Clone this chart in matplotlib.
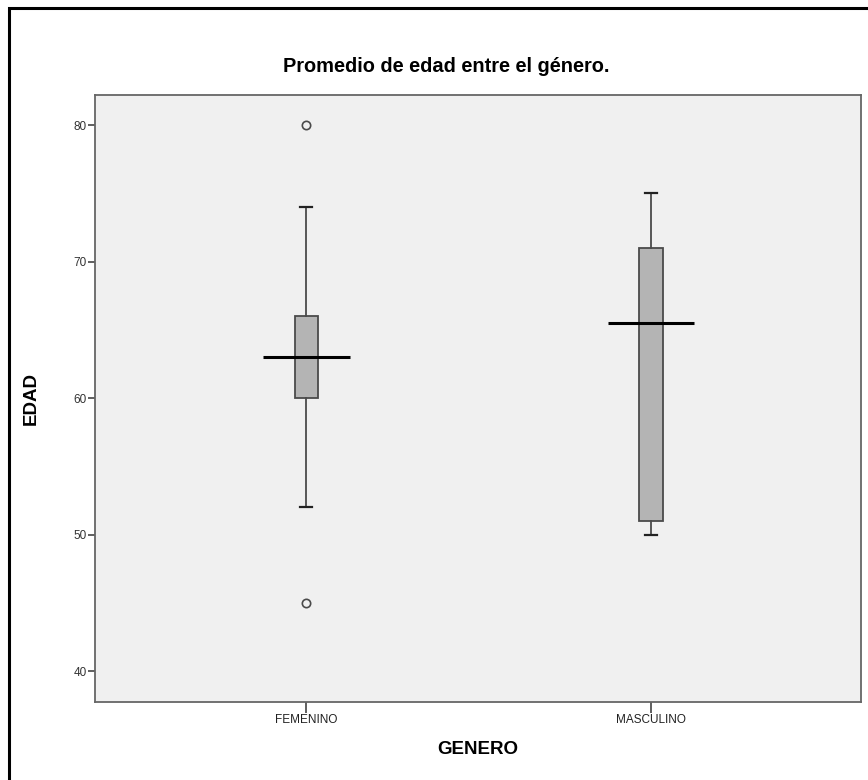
import numpy as np
import matplotlib
matplotlib.use("Agg")
import matplotlib.pyplot as plt
from matplotlib.patches import Rectangle

plt.rcParams["font.family"] = ["Liberation Sans", "DejaVu Sans"]

# values
categories = ["FEMENINO", "MASCULINO"]
whisker_lo = [52, 50]
q1 = [60, 51]
median = [63, 65.5]
q3 = [66, 71]
whisker_hi = [74, 75]
outliers = [[80, 45], []]

stats = [dict(label=c, whislo=lo, q1=a, med=m, q3=b, whishi=hi, fliers=f)
         for c, lo, a, m, b, hi, f in zip(categories, whisker_lo, q1, median, q3, whisker_hi, outliers)]
pos = np.arange(1, len(categories) + 1)

fig = plt.figure(figsize=(8.68, 7.8), dpi=100)
ax = fig.add_axes([95 / 868, 1 - 702 / 780, 766 / 868, 607 / 780])
ax.set_facecolor("#f0f0f0")

edge = "#4a4a4a"
ax.bxp(stats, positions=pos, widths=0.067, patch_artist=True, showfliers=True,
       boxprops=dict(facecolor="#b4b4b4", edgecolor=edge, lw=1.3),
       whiskerprops=dict(color=edge, lw=1.3),
       capprops=dict(color="#222222", lw=1.6),
       medianprops=dict(lw=0),
       flierprops=dict(marker="o", markersize=6, markerfacecolor="none",
                       markeredgecolor=edge, markeredgewidth=1.2))
# SPSS draws the median line wider than the box
ax.hlines(median, pos - 0.126, pos + 0.126, colors="black", lw=2.2, zorder=5)

ax.set_xlim(0.388, 2.609)
ax.set_ylim(37.73, 82.2)
ax.set_yticks([40, 50, 60, 70, 80])
ax.set_xticks(pos)
ax.set_xticklabels(categories)
ax.tick_params(axis="y", length=5, width=1.2, color="#444444", labelsize=8.5,
               labelcolor="#333333", pad=1)
ax.tick_params(axis="x", length=8, width=1.2, color="#444444", labelsize=8.5,
               labelcolor="#222222", pad=0.5)
for s in ax.spines.values():
    s.set_color("#666666")
    s.set_linewidth(1.3)

ax.set_ylabel("EDAD", fontsize=13.5, fontweight="bold", labelpad=24)
ax.set_xlabel("GENERO", fontsize=13.5, fontweight="bold", labelpad=11)
fig.text(446 / 868, 1 - 66 / 780, "Promedio de edad entre el género.", ha="center", va="center",
         fontsize=14.4, fontweight="bold")

# outer frame (cut off on the right and bottom in the original export)
fig.patches.append(Rectangle((9 / 868, -0.1), 1.2, 1 - 8 / 780 + 0.1,
                             transform=fig.transFigure, fill=False, ec="black", lw=2.2))

fig.savefig("out.png", dpi=100)
